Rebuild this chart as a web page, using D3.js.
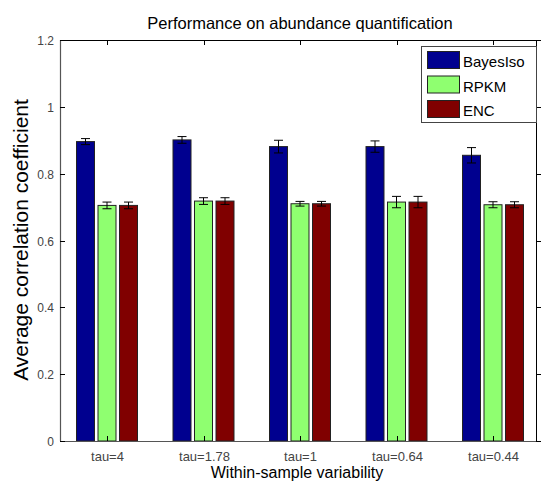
<!DOCTYPE html>
<html>
<head>
<meta charset="utf-8">
<script src="https://cdn.jsdelivr.net/npm/d3@7"></script>
<style>
body { margin: 0; background: #fff; }
text { font-family: "Liberation Sans", Arial, sans-serif; }
</style>
</head>
<body>
<script>
// chart data
var categories = ["tau=4", "tau=1.78", "tau=1", "tau=0.64", "tau=0.44"];
var seriesNames = ["BayesIso", "RPKM", "ENC"];
var seriesColors = ["#00008f", "#8fff70", "#800000"];
var bayesIso = [0.896, 0.901, 0.881, 0.881, 0.855];
var bayesIsoErr = [0.009, 0.010, 0.019, 0.017, 0.023];
var rpkm = [0.705, 0.718, 0.710, 0.715, 0.707];
var rpkmErr = [0.010, 0.010, 0.007, 0.017, 0.009];
var enc = [0.705, 0.718, 0.710, 0.715, 0.707];
var encErr = [0.010, 0.010, 0.007, 0.017, 0.009];
var yTicks = [0, 0.2, 0.4, 0.6, 0.8, 1, 1.2];

var series = [bayesIso, rpkm, enc];
var errs = [bayesIsoErr, rpkmErr, encErr];

var W = 541, H = 483;
var box = { left: 60, right: 536, top: 40, bottom: 441 };

var svg = d3.select("body").append("svg")
	.attr("width", W)
	.attr("height", H);

// scales
var x = d3.scaleLinear().domain([1, 5]).range([107, 493]);
var y = d3.scaleLinear().domain([0, 1.2]).range([box.bottom, box.top]);
var barW = 18, offset = 21.5;

// bars
seriesNames.forEach(function(name, s) {
	var g = svg.append("g");
	g.selectAll("rect")
		.data(series[s])
		.enter()
		.append("rect")
			.attr("x", function(d, i) { return x(i + 1) + (s - 1) * offset - barW / 2; })
			.attr("y", function(d) { return y(d); })
			.attr("width", barW)
			.attr("height", function(d) { return y(0) - y(d); })
			.attr("fill", seriesColors[s])
			.attr("stroke", "#222")
			.attr("stroke-width", 1);

	// error bars
	var eb = g.selectAll(".err")
		.data(series[s])
		.enter()
		.append("g")
			.attr("class", "err")
			.attr("stroke", "#000")
			.attr("stroke-width", 1);
	eb.append("line")
		.attr("x1", function(d, i) { return x(i + 1) + (s - 1) * offset; })
		.attr("x2", function(d, i) { return x(i + 1) + (s - 1) * offset; })
		.attr("y1", function(d, i) { return y(d + errs[s][i]); })
		.attr("y2", function(d, i) { return y(d - errs[s][i]); });
	[1, -1].forEach(function(sign) {
		eb.append("line")
			.attr("x1", function(d, i) { return x(i + 1) + (s - 1) * offset - 4.5; })
			.attr("x2", function(d, i) { return x(i + 1) + (s - 1) * offset + 4.5; })
			.attr("y1", function(d, i) { return y(d + sign * errs[s][i]); })
			.attr("y2", function(d, i) { return y(d + sign * errs[s][i]); });
	});
});

// frame
svg.append("rect")
	.attr("x", box.left + 0.5).attr("y", box.top + 0.5)
	.attr("width", box.right - box.left).attr("height", box.bottom - box.top)
	.attr("fill", "none").attr("stroke", "#000").attr("stroke-width", 1);
svg.append("line")
	.attr("x1", box.left + 0.5).attr("x2", box.left + 0.5)
	.attr("y1", box.top).attr("y2", box.bottom)
	.attr("stroke", "#555").attr("stroke-width", 1.2);
svg.append("line")
	.attr("x1", box.left).attr("x2", box.right)
	.attr("y1", box.bottom + 0.5).attr("y2", box.bottom + 0.5)
	.attr("stroke", "#555").attr("stroke-width", 1.2);

// y ticks (inside on the left, stubs on the right)
var yt = svg.append("g");
yTicks.forEach(function(t) {
	var yy = Math.round(y(t)) + 0.5;
	yt.append("line").attr("x1", box.left).attr("x2", box.left + 5).attr("y1", yy).attr("y2", yy).attr("stroke", "#000");
	yt.append("line").attr("x1", box.right).attr("x2", box.right + 5).attr("y1", yy).attr("y2", yy).attr("stroke", "#000");
	yt.append("text")
		.attr("x", box.left - 6)
		.attr("y", yy + 4.5)
		.attr("text-anchor", "end")
		.attr("font-size", 12)
		.attr("fill", "#444")
		.text(t);
});

// x ticks
categories.forEach(function(c, i) {
	var xx = Math.round(x(i + 1)) + 0.5;
	svg.append("line").attr("x1", xx).attr("x2", xx).attr("y1", box.top).attr("y2", box.top + 5).attr("stroke", "#000");
	svg.append("line").attr("x1", xx).attr("x2", xx).attr("y1", box.bottom - 5).attr("y2", box.bottom).attr("stroke", "#000");
	svg.append("text")
		.attr("x", xx)
		.attr("y", 461)
		.attr("text-anchor", "middle")
		.attr("font-size", 13)
		.attr("fill", "#444")
		.text(c);
});

// title and axis labels
svg.append("text")
	.attr("x", 300).attr("y", 29)
	.attr("text-anchor", "middle")
	.attr("font-size", 16.5)
	.text("Performance on abundance quantification");
svg.append("text")
	.attr("x", 297).attr("y", 478)
	.attr("text-anchor", "middle")
	.attr("font-size", 16)
	.text("Within-sample variability");
svg.append("text")
	.attr("transform", "translate(28,240) rotate(-90)")
	.attr("text-anchor", "middle")
	.attr("font-size", 21)
	.text("Average correlation coefficient");

// legend
var lg = svg.append("g").attr("transform", "translate(421,46)");
lg.append("rect")
	.attr("x", 0.5).attr("y", 0.5)
	.attr("width", 115).attr("height", 76)
	.attr("fill", "#fff").attr("stroke", "#444");
seriesNames.forEach(function(name, s) {
	lg.append("rect")
		.attr("x", 6.5).attr("y", 5.5 + s * 24.5)
		.attr("width", 32).attr("height", 17)
		.attr("fill", seriesColors[s])
		.attr("stroke", "#222");
	lg.append("text")
		.attr("x", 42).attr("y", 21 + s * 24.5)
		.attr("font-size", 15)
		.text(name);
});
</script>
</body>
</html>
